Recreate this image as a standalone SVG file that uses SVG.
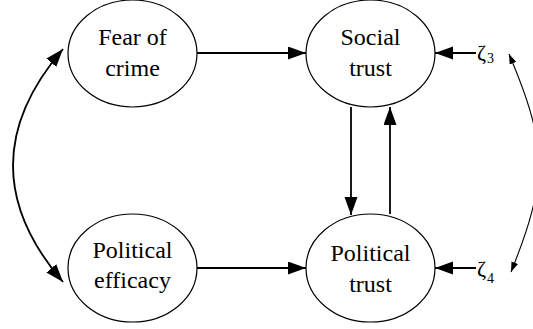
<svg xmlns="http://www.w3.org/2000/svg" width="533" height="329" viewBox="0 0 533 329">
  <style>
    .node ellipse { fill: #ffffff; stroke: #000000; stroke-width: 1.2; }
    .lbl { font-family: Liberation Serif, Tinos, Times New Roman, Times, Noto Serif, DejaVu Serif, FreeSerif, serif; fill: #000000; }
    .node text { font-size: 24px; text-anchor: middle; }
    .edge { fill: none; stroke: #000000; stroke-width: 1.8; }
    .thin { fill: none; stroke: #000000; stroke-width: 1.1; }
  </style>
  <defs>
    <marker id="head" markerUnits="userSpaceOnUse" markerWidth="20" markerHeight="14" refX="18" refY="6.5" orient="auto-start-reverse">
      <path d="M0,0 L18,6.5 L0,13 z" fill="#000000"/>
    </marker>
    <marker id="headSmall" markerUnits="userSpaceOnUse" markerWidth="12" markerHeight="8" refX="10" refY="3.5" orient="auto-start-reverse">
      <path d="M0,0 L10,3.5 L0,7 z" fill="#000000"/>
    </marker>
  </defs>

  <g id="edges">
    <!-- regression paths -->
    <line class="edge" x1="197" y1="53" x2="306" y2="53" marker-end="url(#head)"/>
    <line class="edge" x1="197" y1="268" x2="306" y2="268" marker-end="url(#head)"/>
    <line class="edge" x1="351" y1="107" x2="351" y2="215" marker-end="url(#head)"/>
    <line class="edge" x1="390" y1="214" x2="390" y2="107" marker-end="url(#head)"/>
    <!-- disturbances -->
    <line class="edge" x1="476" y1="53" x2="435" y2="53" marker-end="url(#head)"/>
    <line class="edge" x1="476" y1="268" x2="435" y2="268" marker-end="url(#head)"/>
    <!-- covariances -->
    <path class="edge" d="M63,49 Q-37,165.5 63,282" marker-start="url(#head)" marker-end="url(#head)"/>
    <path class="thin" d="M509,54 C548,146 548,180 511,272" marker-start="url(#headSmall)" marker-end="url(#headSmall)"/>
  </g>

  <g id="fear" class="node">
    <ellipse cx="132.5" cy="53.5" rx="64.5" ry="53.5"/>
    <text class="lbl" x="132.5" y="45">Fear of</text>
    <text class="lbl" x="132.5" y="76">crime</text>
  </g>
  <g id="social" class="node">
    <ellipse cx="370.5" cy="53.5" rx="64.5" ry="53.5"/>
    <text class="lbl" x="370.5" y="45">Social</text>
    <text class="lbl" x="370.5" y="76">trust</text>
  </g>
  <g id="efficacy" class="node">
    <ellipse cx="132.5" cy="268" rx="64.5" ry="54"/>
    <text class="lbl" x="132.5" y="258">Political</text>
    <text class="lbl" x="132.5" y="288">efficacy</text>
  </g>
  <g id="political" class="node">
    <ellipse cx="370.5" cy="268" rx="64.5" ry="54"/>
    <text class="lbl" x="370.5" y="261">Political</text>
    <text class="lbl" x="370.5" y="292">trust</text>
  </g>

  <g id="zeta3">
    <text class="lbl" x="477" y="60" font-size="22">ζ</text>
    <text class="lbl" x="487" y="63" font-size="14">3</text>
  </g>
  <g id="zeta4">
    <text class="lbl" x="477" y="276" font-size="22">ζ</text>
    <text class="lbl" x="487" y="283" font-size="14">4</text>
  </g>
</svg>
